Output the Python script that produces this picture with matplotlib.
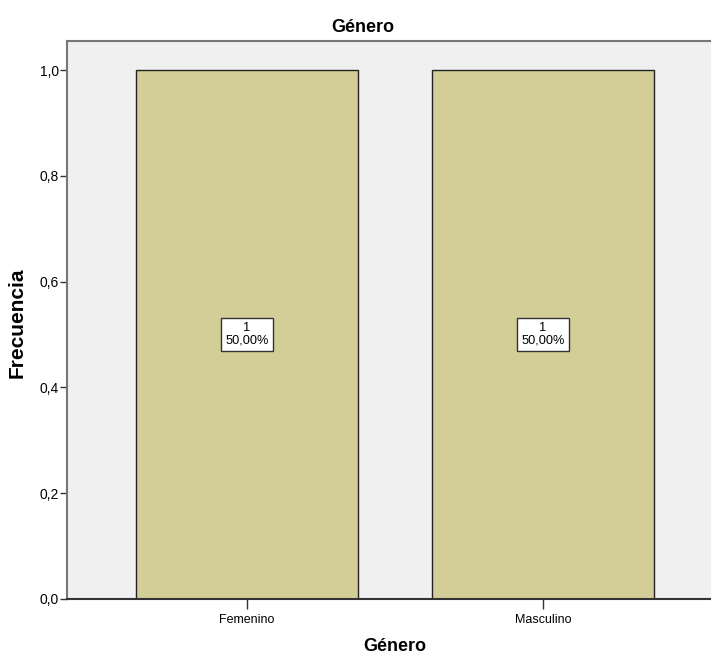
import matplotlib
matplotlib.use("Agg")
import matplotlib.pyplot as plt

categories = ["Femenino", "Masculino"]
counts = [1, 1]
percents = ["50,00%", "50,00%"]
yticks = [0.0, 0.2, 0.4, 0.6, 0.8, 1.0]

plt.rcParams["font.family"] = ["Liberation Sans", "DejaVu Sans"]

fig = plt.figure(figsize=(7.11, 6.59), dpi=100)
# plot area runs a little past the right edge, as in the reference
ax = fig.add_axes([67 / 711, 1 - 599 / 659, 656 / 711, 558 / 659])
ax.set_facecolor("#f0f0f0")

x = list(range(len(categories)))
ax.bar(x, counts, width=0.75, color="#d3ce97", edgecolor="#222222", linewidth=1.0, zorder=2)

for xi, c, p in zip(x, counts, percents):
    ax.text(xi, c / 2, f"{c}\n{p}", ha="center", va="center", fontsize=9.2,
            linespacing=1.1, zorder=3,
            bbox=dict(boxstyle="square,pad=0.3", facecolor="white", edgecolor="#333333", linewidth=1.0))

ax.set_xlim(-0.608, 1.608)
ax.set_ylim(0, 1.055)
ax.set_xticks(x)
ax.set_xticklabels(categories, fontsize=9)
ax.set_yticks(yticks)
ax.set_yticklabels([f"{v:.1f}".replace(".", ",") for v in yticks], fontsize=10)
ax.tick_params(axis="y", length=5, width=1, color="#333333", pad=1)
ax.tick_params(axis="x", length=7, width=1, color="#333333", pad=4)

for side in ["top", "left"]:
    ax.spines[side].set_color("#777777")
    ax.spines[side].set_linewidth(1.5)
ax.spines["bottom"].set_color("#333333")
ax.spines["bottom"].set_linewidth(1.5)
ax.spines["right"].set_visible(False)

ax.set_xlabel("Género", fontsize=13, fontweight="bold")
ax.set_ylabel("Frecuencia", fontsize=15, fontweight="bold")
ax.xaxis.set_label_coords((395 - 67) / 656, -(638 - 599) / 558)
ax.yaxis.set_label_coords(-(67 - 27) / 656, (599 - 323) / 558)

fig.text(363 / 711, 1 - 28 / 659, "Género", ha="center", va="center", fontsize=13, fontweight="bold")

fig.savefig("out.png", dpi=100)
